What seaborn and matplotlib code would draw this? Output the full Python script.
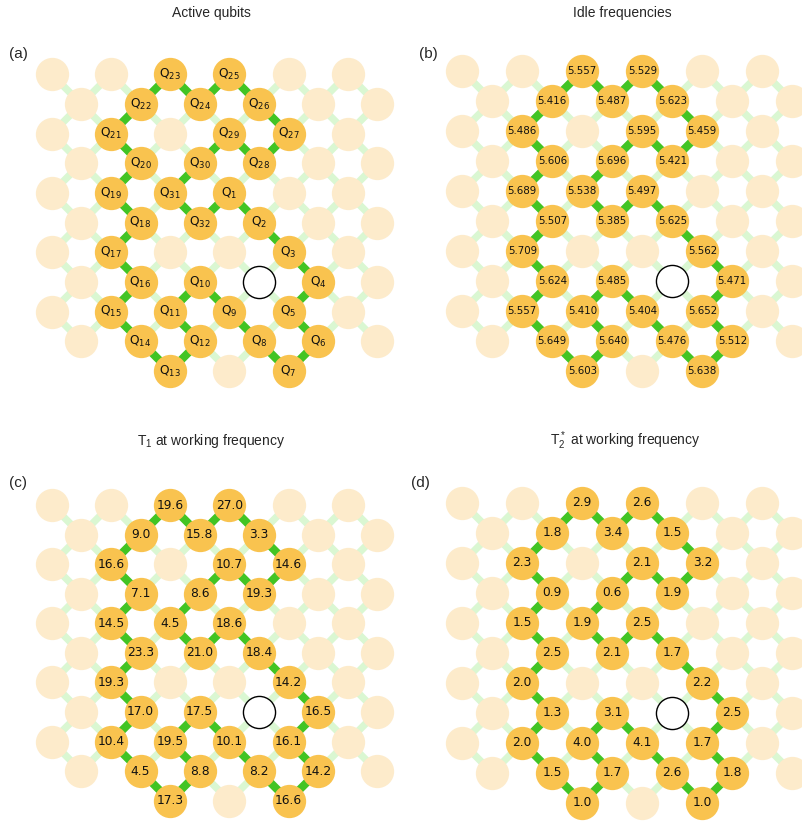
import numpy as np
import pandas as pd
import matplotlib
matplotlib.use("Agg")
import matplotlib.pyplot as plt
import seaborn as sns

sns.set_theme(style="white")
plt.rcParams["font.family"] = ["DejaVu Sans"]

# Lattice position (row, column) of each active qubit Q1..Q32, in chain order
q_rows = [4, 5, 6, 7, 8, 9, 10, 9, 8, 7, 8, 9, 10, 9, 8, 7,
          6, 5, 4, 3, 2, 1, 0, 1, 0, 1, 2, 3, 2, 3, 4, 5]
q_cols = [6, 7, 8, 9, 8, 9, 8, 7, 6, 5, 4, 5, 4, 3, 2, 3,
          2, 3, 2, 3, 2, 3, 4, 5, 6, 7, 8, 7, 6, 5, 4, 5]

# Idle frequencies (GHz)
idle_freq = [5.497, 5.625, 5.562, 5.471, 5.652, 5.512, 5.638, 5.476,
             5.404, 5.485, 5.410, 5.640, 5.603, 5.649, 5.557, 5.624,
             5.709, 5.507, 5.689, 5.606, 5.486, 5.416, 5.557, 5.487,
             5.529, 5.623, 5.459, 5.421, 5.595, 5.696, 5.538, 5.385]

# T1 at working frequency (us)
t1 = [18.6, 18.4, 14.2, 16.5, 16.1, 14.2, 16.6, 8.2,
      10.1, 17.5, 19.5, 8.8, 17.3, 4.5, 10.4, 17.0,
      19.3, 23.3, 14.5, 7.1, 16.6, 9.0, 19.6, 15.8,
      27.0, 3.3, 14.6, 19.3, 10.7, 8.6, 4.5, 21.0]

# T2* at working frequency (us)
t2_star = [2.5, 1.7, 2.2, 2.5, 1.7, 1.8, 1.0, 2.6,
           4.1, 3.1, 4.0, 1.7, 1.0, 1.5, 2.0, 1.3,
           2.0, 2.5, 1.5, 0.9, 2.3, 1.8, 2.9, 3.4,
           2.6, 1.5, 3.2, 1.9, 2.1, 0.6, 1.9, 2.1]

# Defective site on the chip
dead_site = (7, 7)

titles = ["Active qubits", "Idle frequencies",
          r"$\mathregular{T_1}$ at working frequency",
          r"$\mathregular{T_2^*}$ at working frequency"]
panel_tags = ["(a)", "(b)", "(c)", "(d)"]

C_ACTIVE = "#F9C34F"
C_IDLE = "#FDEBCB"
C_LINK = "#42C424"
C_COUPLER = "#DAF7D2"

W, H = 802, 821
fig = plt.figure(figsize=(W / 100, H / 100), dpi=100)


def lattice_sites():
    sites = []
    for r in range(10):
        for c in range(r % 2, 12, 2):
            sites.append((r, c))
    for c in (4, 6, 8):
        sites.append((10, c))
    return sites


sites = lattice_sites()
site_set = set(sites)
active = set(zip(q_rows, q_cols))

site_df = pd.DataFrame(sites, columns=["row", "col"])
site_df["kind"] = [
    "dead" if s == dead_site else ("active" if s in active else "idle")
    for s in sites
]

# couplers between diagonal neighbours
coupler_x, coupler_y = [], []
for (r, c) in sites:
    for dc in (-1, 1):
        nb = (r + 1, c + dc)
        if nb in site_set:
            coupler_x += [c, c + dc, np.nan]
            coupler_y += [r, r + 1, np.nan]

# couplers used by the 32-qubit ring
ring_x, ring_y = [], []
n = len(q_rows)
for i in range(n):
    j = (i + 1) % n
    ring_x += [q_cols[i], q_cols[j], np.nan]
    ring_y += [q_rows[i], q_rows[j], np.nan]

# axes placement in pixels: (x of col 0, y of row 0, col step, row step)
placements = [
    (51.7, 74.3, 29.6, 29.67),
    (462.3, 71.0, 30.0, 30.0),
    (51.7, 505.0, 29.6, 29.57),
    (462.3, 502.7, 30.0, 30.0),
]

labels_a = [f"Q$_{{{i + 1}}}$" for i in range(n)]
labels_b = [f"{v:.3f}" for v in idle_freq]
labels_c = [f"{v:.1f}" for v in t1]
labels_d = [f"{v:.1f}" for v in t2_star]
panel_labels = [labels_a, labels_b, labels_c, labels_d]
label_sizes = [8.8, 7.4, 8.8, 8.8]

title_pos = [(211, 13), (622, 13), (211, 441), (625, 441)]
tag_pos = [(18, 54), (428.5, 54), (18, 483), (420.5, 483)]

for k in range(4):
    x0, y0, sx, sy = placements[k]
    left = x0 - sx
    right = x0 + 12 * sx
    top = y0 - sy
    bottom = y0 + 11 * sy
    ax = fig.add_axes([left / W, 1 - bottom / H, (right - left) / W,
                       (bottom - top) / H])
    ax.set_xlim(-1, 12)
    ax.set_ylim(11, -1)
    ax.set_axis_off()

    ax.plot(coupler_x, coupler_y, color=C_COUPLER, lw=5.2,
            solid_capstyle="butt", zorder=1)
    ax.plot(ring_x, ring_y, color=C_LINK, lw=5.8,
            solid_capstyle="butt", zorder=2)

    idle_df = site_df[site_df["kind"] == "idle"]
    sns.scatterplot(data=idle_df, x="col", y="row", ax=ax, s=575,
                    color=C_IDLE, linewidth=0, zorder=3, legend=False)
    act_df = pd.DataFrame({"row": q_rows, "col": q_cols})
    sns.scatterplot(data=act_df, x="col", y="row", ax=ax, s=575,
                    color=C_ACTIVE, linewidth=0, zorder=3, legend=False)
    dead_df = site_df[site_df["kind"] == "dead"]
    sns.scatterplot(data=dead_df, x="col", y="row", ax=ax, s=535,
                    facecolor="white", edgecolor="black", linewidth=1.0,
                    zorder=3, legend=False)
    ax.set_xlim(-1, 12)
    ax.set_ylim(11, -1)
    ax.set_xlabel("")
    ax.set_ylabel("")

    for i in range(n):
        ax.text(q_cols[i], q_rows[i], panel_labels[k][i], ha="center",
                va="center", fontsize=label_sizes[k], color="#111111",
                zorder=5)

    tx, ty = title_pos[k]
    fig.text(tx / W, 1 - ty / H, titles[k], ha="center", va="center",
             fontsize=10, family=["Liberation Sans", "DejaVu Sans"])
    px, py = tag_pos[k]
    fig.text(px / W, 1 - py / H, panel_tags[k], ha="center", va="center",
             fontsize=11, family=["Liberation Sans", "DejaVu Sans"])

fig.savefig("out.png", dpi=100)
